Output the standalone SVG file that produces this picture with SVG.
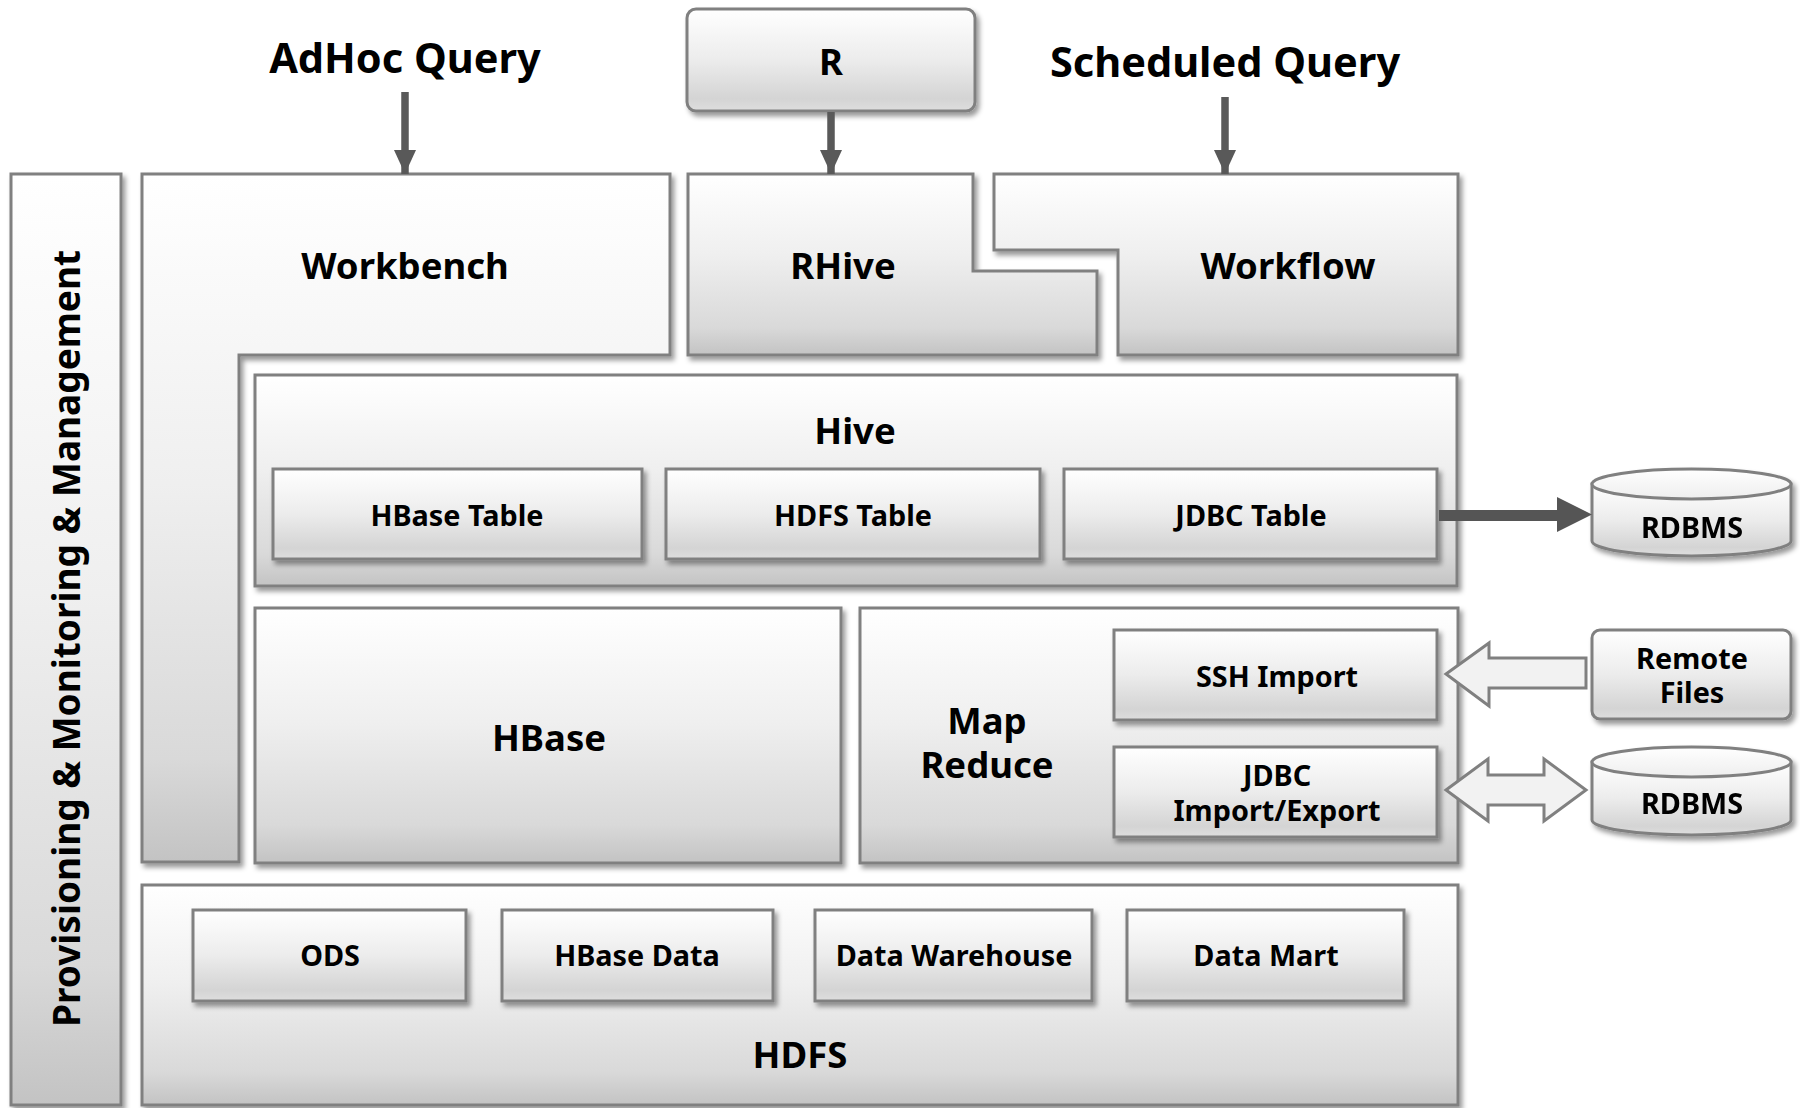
<svg xmlns="http://www.w3.org/2000/svg" width="1800" height="1108" viewBox="0 0 1800 1108">
<defs>
<linearGradient id="gBig" x1="0" y1="0" x2="0" y2="1">
<stop offset="0" stop-color="#ffffff"/>
<stop offset="0.45" stop-color="#efefef"/>
<stop offset="0.85" stop-color="#d9d9d9"/>
<stop offset="1" stop-color="#c3c3c3"/>
</linearGradient>
<linearGradient id="gSmall" x1="0" y1="0" x2="0" y2="1">
<stop offset="0" stop-color="#ffffff"/>
<stop offset="0.5" stop-color="#ececec"/>
<stop offset="0.88" stop-color="#d4d4d4"/>
<stop offset="1" stop-color="#dedede"/>
</linearGradient>
<linearGradient id="gCylTop" x1="0" y1="0" x2="0" y2="1">
<stop offset="0" stop-color="#ffffff"/>
<stop offset="1" stop-color="#eeeeee"/>
</linearGradient>
<filter id="sh" x="-5%" y="-5%" width="115%" height="120%">
<feDropShadow dx="3" dy="4" stdDeviation="2.5" flood-color="#000" flood-opacity="0.4"/>
</filter>
<marker id="ah" markerWidth="24" markerHeight="22" refX="24" refY="11" orient="auto" markerUnits="userSpaceOnUse">
<path d="M0,0 L24,11 L0,22 Z" fill="#595959"/>
</marker>
</defs>
<style>
.box{fill:url(#gBig);stroke:#808080;stroke-width:3;filter:url(#sh)}
.sbox{fill:url(#gSmall);stroke:#808080;stroke-width:3;filter:url(#sh)}
.t{font-family:"Noto Sans","Open Sans","DejaVu Sans",sans-serif;font-weight:bold;fill:#000;text-anchor:middle}
.top{font-size:41.5px}
.big{font-size:36.5px}
.sm{font-size:28.8px}
.vert{font-size:37px}
.conn{stroke:#595959;stroke-width:7.5;fill:none}
.hollow{fill:#f2f2f2;stroke:#808080;stroke-width:3}
</style>
<rect width="1800" height="1108" fill="#ffffff"/>

<g id="adhoc"><text class="t top" x="405" y="73">AdHoc Query</text></g>
<g id="scheduled"><text class="t top" x="1225" y="77">Scheduled Query</text></g>
<g id="r"><rect class="sbox" x="687" y="9" width="288" height="102" rx="9"/><text class="t big" x="831" y="75">R</text></g>

<g id="provisioning"><rect class="box" x="11" y="174" width="110" height="931"/>
<text class="t vert" transform="translate(80,638.5) rotate(-90)" x="0" y="0">Provisioning &amp; Monitoring &amp; Management</text></g>

<g id="workbench"><path class="box" d="M142,174 H670 V355 H239 V862 H142 Z"/><text class="t big" x="405" y="279">Workbench</text></g>
<g id="rhive"><path class="box" d="M688,174 H973 V271 H1097 V355 H688 Z"/><text class="t big" x="843" y="279">RHive</text></g>
<g id="workflow"><path class="box" d="M994,174 H1458 V355 H1118 V250 H994 Z"/><text class="t big" x="1288" y="279">Workflow</text></g>

<g id="hive"><rect class="box" x="255" y="375" width="1202" height="211"/><text class="t big" x="855" y="444">Hive</text></g>
<g id="hbase-table"><rect class="sbox" x="273" y="469" width="369" height="90"/><text class="t sm" x="457" y="526">HBase Table</text></g>
<g id="hdfs-table"><rect class="sbox" x="666" y="469" width="374" height="90"/><text class="t sm" x="853" y="526">HDFS Table</text></g>
<g id="jdbc-table"><rect class="sbox" x="1064" y="469" width="373" height="90"/><text class="t sm" x="1251" y="526">JDBC Table</text></g>

<g id="hbase"><rect class="box" x="255" y="608" width="586" height="255"/><text class="t big" x="549" y="751">HBase</text></g>
<g id="mapreduce"><rect class="box" x="860" y="608" width="598" height="255"/><text class="t big" x="987" y="734">Map<tspan x="987" dy="44">Reduce</tspan></text></g>
<g id="ssh-import"><rect class="sbox" x="1114" y="630" width="323" height="90"/><text class="t sm" x="1277" y="687">SSH Import</text></g>
<g id="jdbc-import"><rect class="sbox" x="1114" y="747" width="323" height="90"/><text class="t sm" x="1277" y="786">JDBC<tspan x="1277" dy="35">Import/Export</tspan></text></g>

<g id="hdfs"><rect class="box" x="142" y="885" width="1316" height="220"/><text class="t big" x="800" y="1068">HDFS</text></g>
<g id="ods"><rect class="sbox" x="193" y="910" width="273" height="91"/><text class="t sm" x="330" y="966">ODS</text></g>
<g id="hbase-data"><rect class="sbox" x="502" y="910" width="271" height="91"/><text class="t sm" x="637" y="966">HBase Data</text></g>
<g id="data-warehouse"><rect class="sbox" x="815" y="910" width="277" height="91"/><text class="t sm" x="954" y="966">Data Warehouse</text></g>
<g id="data-mart"><rect class="sbox" x="1127" y="910" width="277" height="91"/><text class="t sm" x="1266" y="966">Data Mart</text></g>

<g id="rdbms1" filter="url(#sh)">
<path d="M1592,484 V541 A99.5,15 0 0 0 1791,541 V484 Z" fill="url(#gSmall)" stroke="#808080" stroke-width="3"/>
<ellipse cx="1691.5" cy="484" rx="99.5" ry="15" fill="url(#gCylTop)" stroke="#808080" stroke-width="3"/>
<text class="t sm" x="1692" y="538">RDBMS</text></g>
<g id="remote-files"><rect class="sbox" x="1592" y="630" width="199" height="89" rx="8"/><text class="t sm" x="1692" y="669">Remote<tspan x="1692" dy="34">Files</tspan></text></g>
<g id="rdbms2" filter="url(#sh)">
<path d="M1592,762 V820 A99.5,15 0 0 0 1791,820 V762 Z" fill="url(#gSmall)" stroke="#808080" stroke-width="3"/>
<ellipse cx="1691.5" cy="762" rx="99.5" ry="15" fill="url(#gCylTop)" stroke="#808080" stroke-width="3"/>
<text class="t sm" x="1692" y="814">RDBMS</text></g>

<g id="connectors">
<line class="conn" x1="405" y1="92" x2="405" y2="174" marker-end="url(#ah)"/>
<line class="conn" x1="831" y1="112" x2="831" y2="174" marker-end="url(#ah)"/>
<line class="conn" x1="1225" y1="97" x2="1225" y2="174" marker-end="url(#ah)"/>
<path d="M1439,510 H1557 V497 L1592,514.5 L1557,532 V521 H1439 Z" fill="#555555"/>
<polygon class="hollow" points="1446,674 1489,643 1489,658 1586,658 1586,688 1489,688 1489,706"/>
<polygon class="hollow" points="1446,790 1488,759 1488,775 1544,775 1544,759 1586,790 1544,821 1544,805 1488,805 1488,821"/>
</g>
</svg>
